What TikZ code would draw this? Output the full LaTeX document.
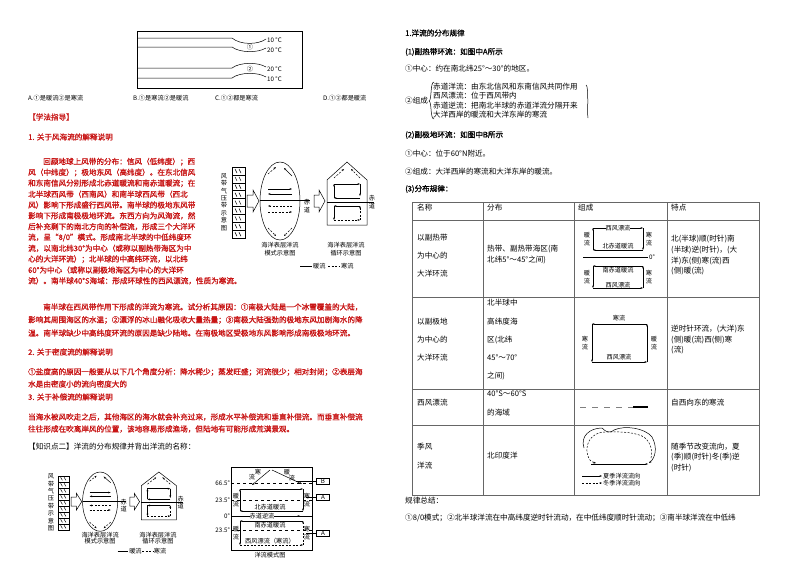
\documentclass[tikz,border=0pt]{standalone}
\usepackage{fontspec}
\setmainfont{Noto Sans CJK SC}
\newfontfamily\rdfont{Noto Sans CJK SC}[FakeBold=1.2]
\usetikzlibrary{arrows.meta}
\definecolor{rd}{RGB}{200,20,20}
\newcommand\fs{\fontsize{7.6}{9}\selectfont}
\newcommand\fsm{\fontsize{6.2}{7.4}\selectfont}
\tikzset{
 t/.style={anchor=west,inner sep=0,font=\fs},
 r/.style={t,text=rd,font=\fs\rdfont},
 hb/.style={t,font=\fs\rdfont},
 sm/.style={inner sep=0,font=\fsm},
 ln/.style={line width=0.5pt},
 ar/.style={-{Stealth[length=2.5pt]},line width=0.5pt},
 dar/.style={-{Stealth[length=2.5pt]},line width=0.5pt,dash pattern=on 2pt off 1.5pt},
 tb/.style={line width=0.6pt,draw=gray!80!black},
}
\newcommand\windfig{%
 \draw[ln] (8,5) rectangle (21,76);
 \foreach \k in {1,...,8}{\draw[ln] (8,5+\k*7.9) -- (21,5+\k*7.9);}
 \foreach \k in {0,...,8}{\draw[ln] (11,7+\k*7.9) -- (13,11+\k*7.9); \draw[ln] (15,7+\k*7.9) -- (17,11+\k*7.9);}
 \node[sm,align=center] (lbl) at (0,40) {风\\带\\气\\压\\带\\示\\意\\图};
 \draw[ln] (23,33) -- (29,33) -- (29,28) -- (35,39) -- (29,50) -- (29,45) -- (23,45) -- cycle;
 \draw[ln] (56,39) ellipse (20 and 39);
 \draw[ln] (36,38) -- (86,38);
 \node[sm,align=center] (eq1) at (83,44) {赤\\道};
 \draw[ar] (44,27) -- (68,27); \draw[ar] (68,32) -- (44,32);
 \draw[dar] (68,44) -- (44,44); \draw[dar] (44,50) -- (68,50);
 \draw[dar] (44,12) -- (52,5); \draw[ar] (68,14) -- (60,6);
 \draw[dar] (44,66) -- (52,74); \draw[dar] (68,66) -- (60,74);
 \draw[ln] (90,33) -- (95,33) -- (95,28) -- (101,39) -- (95,50) -- (95,45) -- (90,45) -- cycle;
 \draw[ln] (103,18) -- (123,0) -- (143,18) -- (143,63) -- (103,63) -- cycle;
 \draw[ln] (103,40) -- (150,40);
 \node[sm,align=center] (eq2) at (148,40) {赤\\道};
 \draw[dar] (110,16) -- (120,7); \draw[dar] (136,16) -- (127,7);
 \draw[ar] (110,22) -- (136,22); \draw[ar] (136,22) -- (136,34);
 \draw[ar] (136,36) -- (110,36); \draw[ar] (110,36) -- (110,22);
 \draw[ar] (136,44) -- (110,44); \draw[ar] (110,44) -- (110,58);
 \draw[dar] (110,58) -- (136,58); \draw[dar] (136,58) -- (136,44);
 \node[sm] (c1) at (56,83) {海洋表层洋流};
 \node[sm] (c2) at (56,91) {模式示意图};
 \node[sm] (c3) at (122,83) {海洋表层洋流};
 \node[sm] (c4) at (122,91) {循环示意图};
 \draw[ln] (76,104) -- (88,104); \node[sm,anchor=west] (w) at (89,104) {暖流};
 \draw[ln,dash pattern=on 2pt off 1.5pt] (104,104) -- (116,104); \node[sm,anchor=west] (c) at (117,104) {寒流};
}
\begin{document}
\begin{tikzpicture}[x=1pt,y=-1pt]
\useasboundingbox (0,0) rectangle (794,560);
\fill[white] (0,0) rectangle (794,560);
% top figure
\draw[line width=0.8pt] (137,31) rectangle (302,88);
\draw[ln] (137,38) -- (232,38) .. controls (240,45) and (258,45) .. (266,39);
\draw[ln] (137,47) -- (232,47) .. controls (240,53) and (258,53) .. (266,48);
\draw[ln] (137,68) -- (232,68) .. controls (240,62) and (258,62) .. (266,67);
\draw[ln] (137,78) -- (232,78) .. controls (240,72) and (258,72) .. (266,77);
\node[sm,anchor=west] (ta) at (267,40) {10 °C};
\node[sm,anchor=west] (tb1) at (267,50) {20 °C};
\node[sm,anchor=west] (tc) at (267,69) {20 °C};
\node[sm,anchor=west] (td) at (267,79) {10 °C};
\node[sm] (n1) at (250,47) {①};
\node[sm] (n2) at (250,69) {②};
\node[t,font=\fsm] (oa) at (28,98) {A.①是暖流②是寒流};
\node[t,font=\fsm] (ob) at (133,98) {B.①是寒流②是暖流};
\node[t,font=\fsm] (oc) at (215,98) {C.①②都是寒流};
\node[t,font=\fsm] (od) at (323,98) {D.①②都是暖流};
% left column red text
\node[r] (h0) at (28,117) {【学法指导】};
\node[r] (h1) at (28,137) {1. 关于风海流的解释说明};
\node[r] (p1) at (28,161.7) {\hspace{15pt}回顾地球上风带的分布：信风（低纬度）；西};
\node[r] (p2) at (28,172.5) {风（中纬度）；极地东风（高纬度）。在东北信风};
\node[r] (p3) at (28,183.3) {和东南信风分别形成北赤道暖流和南赤道暖流；在};
\node[r] (p4) at (28,194.2) {北半球西风带（西南风）和南半球西风带（西北};
\node[r] (p5) at (28,205) {风）影响下形成盛行西风带。南半球的极地东风带};
\node[r] (p6) at (28,215.8) {影响下形成南极极地环流。东西方向为风海流，然};
\node[r] (p7) at (28,226.7) {后补充剩下的南北方向的补偿流，形成三个大洋环};
\node[r] (p8) at (28,237.5) {流，呈“8/0”模式。形成南北半球的中低纬度环};
\node[r] (p9) at (28,248.3) {流，以南北纬30°为中心（或称以副热带海区为中};
\node[r] (p10) at (28,259.2) {心的大洋环流）；北半球的中高纬环流，以北纬};
\node[r] (p11) at (28,270) {60°为中心（或称以副极地海区为中心的大洋环};
\node[r] (p12) at (28,280.8) {流）。南半球40°S海域：形成环球性的西风漂流，性质为寒流。};
\node[r] (q1) at (28,307) {\hspace{15pt}南半球在西风带作用下形成的洋流为寒流。试分析其原因：①南极大陆是一个冰雪覆盖的大陆，};
\node[r] (q2) at (28,320) {影响其周围海区的水温；②漂浮的冰山融化吸收大量热量；③南极大陆强劲的极地东风加剧海水的降};
\node[r] (q3) at (28,333) {温。南半球缺少中高纬度环流的原因是缺少陆地。在南极地区受极地东风影响形成南极极地环流。};
\node[r] (h2) at (28,352) {2. 关于密度流的解释说明};
\node[r] (s1) at (28,372) {①盐度高的原因一般要从以下几个角度分析：降水稀少；蒸发旺盛；河流很少；相对封闭；②表层海};
\node[r] (s2) at (28,384) {水是由密度小的流向密度大的};
\node[r] (h3) at (28,397) {3. 关于补偿流的解释说明};
\node[r] (u1) at (28,417) {当海水被风吹走之后，其他海区的海水就会补充过来，形成水平补偿流和垂直补偿流。而垂直补偿流};
\node[r] (u2) at (28,429) {往往形成在吹离岸风的位置，该地容易形成渔场，但陆地有可能形成荒漠景观。};
\node[t] (k2) at (28,447) {【知识点二】洋流的分布规律并背出洋流的名称：};
% wind figures
\begin{scope}[shift={(224,162)}] \windfig \end{scope}
\begin{scope}[shift={(51,472)},xscale=0.877,yscale=0.76] \windfig \end{scope}
% ocean current model figure
\draw[ln] (231,467) rectangle (312,550);
\draw[ln,dashed] (231,483) -- (312,483);
\draw[ln,dashed] (231,500) -- (312,500);
\draw[ln] (231,516) -- (312,516);
\draw[ln,dashed] (231,530) -- (312,530);
\node[sm,anchor=east] (l1) at (230,483) {66.5°};
\node[sm,anchor=east] (l2) at (230,500) {23.5°};
\node[sm,anchor=east] (l3) at (230,516) {0°};
\node[sm,anchor=east] (l4) at (230,530) {23.5°};
\draw[ar] (270,470) -- (252,485); \draw[ar] (272,470) -- (302,484);
\node[sm] (m1) at (258,472) {寒};\node[sm] (m2) at (252,477) {流};
\node[sm] (m3) at (287,472) {暖};\node[sm] (m4) at (292,478) {流};
\draw[ar] (240,511) -- (240,489); \draw[ar] (240,489) -- (303,489); \draw[ar] (303,489) -- (303,511); \draw[ar] (303,511) -- (240,511);
\node[sm,align=center] (m5) at (236,500) {暖\\流};
\node[sm,align=center] (m6) at (307,500) {寒\\流};
\node[sm] (m7) at (270,507) {北赤道暖流};
\draw[ar] (240,516) -- (300,516);
\node[sm,fill=white] (m8) at (262,516) {赤道逆流};
\draw[ar] (303,521) -- (240,521); \draw[ar] (240,521) -- (240,545);
\draw[dar] (240,545) -- (303,545); \draw[dar] (303,545) -- (303,521);
\node[sm] (m9) at (270,525) {南赤道暖流};
\node[sm] (m10) at (270,541) {西风漂流（寒流）};
\node[sm,align=center] (m11) at (236,533) {暖\\流};
\node[sm,align=center] (m12) at (307,533) {寒\\流};
\node[sm,draw,minimum width=13pt,minimum height=6pt] (bb) at (323,481) {B};
\node[sm,draw,minimum width=13pt,minimum height=6pt] (ba) at (323,497) {A};
\node[sm,draw,minimum width=13pt,minimum height=6pt] (bc) at (323,533) {A};
\coordinate (cb) at (296,481); \coordinate (ca) at (306,497); \coordinate (cc) at (306,533);
\draw[ln] (cb) -- (bb); \draw[ln] (ca) -- (ba); \draw[ln] (cc) -- (bc);
\node[sm] (cap) at (270,555) {洋流模式图};
% right column
\node[hb] (r1) at (405,33) {1.洋流的分布规律};
\node[hb] (r2) at (405,52) {(1)副热带环流：如图中A所示};
\node[t] (r3) at (405,69) {①中心：约在南北纬25°～30°的地区。};
\node[t] (r4) at (405,101) {②组成};
\node[t] (r5) at (433,87) {赤道洋流：由东北信风和东南信风共同作用};
\node[t] (r6) at (433,96) {西风漂流：位于西风带内};
\node[t] (r7) at (433,106) {赤道逆流：把南北半球的赤道洋流分隔开来};
\node[t] (r8) at (433,115) {大洋西岸的暖流和大洋东岸的寒流};
\draw[ln] (434,82) .. controls (430,82) and (432,100) .. (429,101) .. controls (432,102) and (430,119) .. (434,119);
\draw[ln] (586,85) .. controls (589,85) and (587,116) .. (588,118);
\node[hb] (r9) at (405,135) {(2)副极地环流：如图中B所示};
\node[t] (r10) at (405,154) {①中心：位于60°N附近。};
\node[t] (r11) at (405,172) {②组成：大洋西岸的寒流和大洋东岸的暖流。};
\node[hb] (r12) at (405,189) {(3)分布规律：};
% table
\draw[tb] (412,202) rectangle (759,495);
\foreach \yy in {220,297,389,425}{\draw[tb] (412,\yy) -- (759,\yy);}
\foreach \xx in {483,574,667}{\draw[tb] (\xx,202) -- (\xx,495);}
\node[t] (th1) at (417,208) {名称};
\node[t] (th2) at (487,208) {分布};
\node[t] (th3) at (578,208) {组成};
\node[t] (th4) at (671,208) {特点};
\node[t] (a1) at (417,238) {以副热带};
\node[t] (a2) at (417,256) {为中心的};
\node[t] (a3) at (417,274) {大洋环流};
\node[t] (a4) at (487,249) {热带、副热带海区(南};
\node[t] (a5) at (487,260) {北纬5°～45°之间)};
\node[t] (a6) at (671,239) {北(半球)顺(时针)南};
\node[t] (a7) at (671,250) {(半球)逆(时针)，(大};
\node[t] (a8) at (671,261) {洋)东(侧)寒(流)西};
\node[t] (a9) at (671,271) {(侧)暖(流)};
\draw[ar] (593,250) -- (593,228); \draw[ar] (593,228) -- (643,228); \draw[ar] (643,228) -- (643,250); \draw[ar] (643,250) -- (593,250);
\node[sm,fill=white] (g1) at (618,228) {西风漂流};
\node[sm] (g2) at (618,246) {北赤道暖流};
\node[sm,align=center] (g3) at (587,239) {暖\\流};
\node[sm,align=center] (g4) at (649,239) {寒\\流};
\draw[ln] (583,257) -- (648,257); \node[sm,anchor=west] (g5) at (649,257) {0°};
\draw[ar] (643,266) -- (593,266); \draw[ar] (593,266) -- (593,288); \draw[ar] (593,288) -- (643,288); \draw[ar] (643,288) -- (643,266);
\node[sm] (g6) at (618,270) {南赤道暖流};
\node[sm] (g7) at (618,285) {西风漂流};
\node[sm,align=center] (g8) at (587,277) {暖\\流};
\node[sm,align=center] (g9) at (649,277) {寒\\流};
\node[t] (b1) at (417,322) {以副极地};
\node[t] (b2) at (417,340) {为中心的};
\node[t] (b3) at (417,358) {大洋环流};
\node[t] (b4) at (487,303) {北半球中};
\node[t] (b5) at (487,322) {高纬度海};
\node[t] (b6) at (487,340) {区(北纬};
\node[t] (b7) at (487,358) {45°～70°};
\node[t] (b8) at (487,376) {之间)};
\node[t] (b9) at (671,329) {逆时针环流，(大洋)东};
\node[t] (b10) at (671,340) {(侧)暖(流)西(侧)寒};
\node[t] (b11) at (671,350) {(流)};
\draw[ar] (647,324) -- (592,324); \draw[ar] (592,324) -- (592,362); \draw[ar] (592,362) -- (647,362); \draw[ar] (647,362) -- (647,324);
\node[sm] (h4) at (619,318) {寒流};
\node[sm,align=center] (h5) at (585,343) {寒\\流};
\node[sm,align=center] (h6) at (654,343) {暖\\流};
\node[sm] (h7) at (619,357) {西风漂流};
\node[t] (c1r) at (417,403) {西风漂流};
\node[t] (c2r) at (487,394) {40°S～60°S};
\node[t] (c3r) at (487,413) {的海域};
\node[t] (c4r) at (671,403) {自西向东的寒流};
\coordinate (dl) at (580,407); \coordinate (dm) at (633,407); \coordinate (dr) at (648,407);
\draw[ln,gray,dash pattern=on 6pt off 6pt] (dl) -- (dm);
\draw[line width=1.2pt] (dm) -- (dr);
\node[t] (d1) at (417,447) {季风};
\node[t] (d2) at (417,466) {洋流};
\node[t] (d3) at (487,456) {北印度洋};
\node[t] (d4) at (671,447) {随季节改变流向，夏};
\node[t] (d5) at (671,457) {(季)顺(时针)冬(季)逆};
\node[t] (d6) at (671,468) {(时针)};
\draw[ar] (584,448) .. controls (580,436) and (590,428) .. (602,428) .. controls (606,432) and (610,434) .. (614,430) .. controls (625,425) and (645,428) .. (652,437) .. controls (658,448) and (655,458) .. (649,463);
\draw[dar] (651,458) .. controls (653,450) and (650,440) .. (642,436) .. controls (630,431) and (616,432) .. (604,432) .. controls (592,433) and (586,442) .. (587,452) .. controls (588,458) and (590,462) .. (596,463);
\draw[ar] (591,464) -- (648,464);
\draw[ar] (582,476) -- (602,476); \node[sm,anchor=west] (e1) at (603,476) {夏季洋流流向};
\draw[dar] (582,483) -- (602,483); \node[sm,anchor=west] (e2) at (603,483) {冬季洋流流向};
\node[t] (f1) at (405,501) {规律总结：};
\node[t] (f2) at (405,518) {①8/0模式；②北半球洋流在中高纬度逆时针流动，在中低纬度顺时针流动；③南半球洋流在中低纬};
\end{tikzpicture}
\end{document}
